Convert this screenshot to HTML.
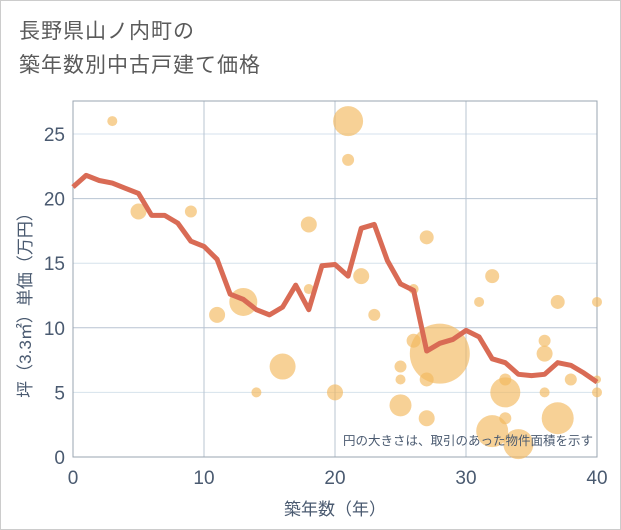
<!DOCTYPE html>
<html><head><meta charset="utf-8"><style>
body{margin:0;background:#fff;}
.wrap{width:619px;height:528px;border:1px solid #ccc;position:relative;overflow:hidden;font-family:"Liberation Sans","Noto Sans CJK JP",sans-serif;}
.title{position:absolute;left:18px;top:14px;font-size:21px;line-height:34px;color:#5a5a5a;letter-spacing:1px;}
</style></head><body>
<div class="wrap">
<div class="title">長野県山ノ内町の<br>築年数別中古戸建て価格</div>
<svg id="chart" width="621" height="530" style="position:absolute;left:0;top:0"></svg>
</div>
<script>
const lineYears=[0,1,2,3,4,5,6,7,8,9,10,11,12,13,14,15,16,17,18,19,20,21,22,23,24,25,26,27,28,29,30,31,32,33,34,35,36,37,38,39,40];
const lineValues=[20.9,21.8,21.4,21.2,20.8,20.4,18.7,18.7,18.1,16.7,16.3,15.3,12.6,12.2,11.4,11.0,11.6,13.3,11.4,14.8,14.9,14.0,17.7,18.0,15.2,13.4,12.9,8.2,8.8,9.1,9.8,9.3,7.6,7.3,6.4,6.3,6.4,7.3,7.1,6.5,5.8];
const bubbleX=[3,5,9,11,13,14,16,18,18,20,21,21,22,23,25,25,25,26,26,27,27,27,28,31,32,32,33,33,33,34,36,36,36,37,37,38,40,40,40];
const bubbleY=[26,19,19,11,12,5,7,18,13,5,26,23,14,11,7,6,4,9,13,17,6,3,8,12,14,2,5,6,3,1,9,8,5,3,12,6,12,5,6];
const bubbleR=[5,8,6,8,14,5,13,8,5,8,15,6,8,6,6,5,11,7,5,7,7,8,30,5,7,16,15,6,6,15,6,8,5,16,7,6,5,5,4];
const xTicks=[0,10,20,30,40];
const yTicks=[0,5,10,15,20,25];
const NS="http://www.w3.org/2000/svg";
const svg=document.getElementById('chart');
const L=72,R=596,T=100,B=456;
const xs=v=>L+(v/40)*(R-L);
const ys=v=>B-v*12.92;
function mk(tag,attrs,parent){const e=document.createElementNS(NS,tag);for(const k in attrs)e.setAttribute(k,attrs[k]);(parent||svg).appendChild(e);return e;}
const grid=mk('g',{});


yTicks.forEach(t=>{const l=mk('line',{x1:L,x2:R,y1:ys(t),y2:ys(t),stroke:(t%10==0)?'#b8c4d2':'#d6e2ec','stroke-width':1},grid);


const tx=mk('text',{x:L-8,y:ys(t)+7,'text-anchor':'end','font-size':19,fill:'#4a5a70'});tx.textContent=t;

});
xTicks.forEach(t=>{const l=mk('line',{x1:xs(t),x2:xs(t),y1:T,y2:B,stroke:'#b8c4d2','stroke-width':1},grid);


const tx=mk('text',{x:xs(t),y:B+27,'text-anchor':'middle','font-size':19,fill:'#4a5a70'});tx.textContent=t;

});
const frame=mk('rect',{x:L,y:T,width:R-L,height:B-T,fill:'none',stroke:'#9aa4b0','stroke-width':1});


bubbleX.forEach((x,i)=>{const c=mk('circle',{cx:xs(x),cy:ys(bubbleY[i]),r:bubbleR[i],fill:'#f2b95e','fill-opacity':0.65});

});
const pts=lineYears.map((x,i)=>xs(x)+','+ys(lineValues[i])).join(' ');
const pl=mk('polyline',{points:pts,fill:'none',stroke:'#d96b55','stroke-width':5,'stroke-linejoin':'round'});


const note=mk('text',{x:592,y:444,'text-anchor':'end','font-size':12.5,fill:'#4a5a70'});note.textContent='円の大きさは、取引のあった物件面積を示す';


const xt=mk('text',{x:334,y:514,'text-anchor':'middle','font-size':17,fill:'#4a5a70'});xt.textContent='築年数（年）';


const yt=mk('text',{x:0,y:0,'text-anchor':'middle','font-size':17,fill:'#4a5a70',transform:'translate(30,300) rotate(-90)'});yt.textContent='坪（3.3㎡）単価（万円）';


</script>
</body></html>
